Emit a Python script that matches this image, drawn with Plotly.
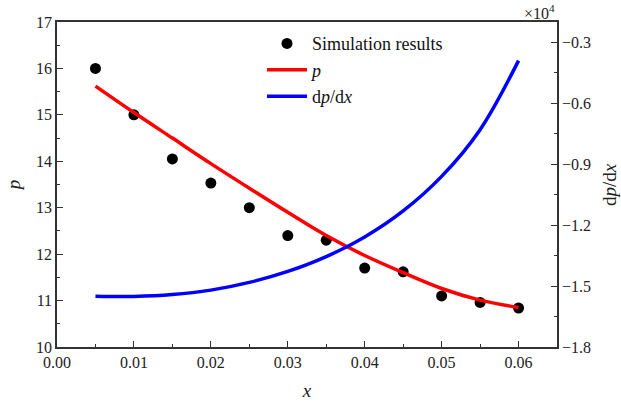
import plotly.graph_objects as go

x_sim = [0.005, 0.01, 0.015, 0.02, 0.025, 0.03, 0.035, 0.04, 0.045, 0.05, 0.055, 0.06]
p_sim = [16.0, 15.0, 14.05, 13.53, 13.0, 12.4, 12.3, 11.7, 11.62, 11.1, 10.96, 10.84]

x_curve = [0.005, 0.01, 0.015, 0.02, 0.025, 0.03, 0.035, 0.04, 0.045, 0.05, 0.055, 0.06]
p_curve = [15.62, 15.05, 14.5, 13.95, 13.42, 12.9, 12.4, 11.97, 11.6, 11.26, 11.01, 10.85]
dpdx_curve = [-1.55, -1.551, -1.542, -1.52, -1.482, -1.428, -1.355, -1.258, -1.13, -0.96, -0.73, -0.39]

FONT = "Liberation Serif, Times New Roman, serif"
TICKFONT = dict(family=FONT, size=16, color="#222222")

fig = go.Figure()
fig.add_trace(go.Scatter(x=x_sim, y=p_sim, mode="markers", name="Simulation results",
                         marker=dict(color="black", size=11)))
fig.add_trace(go.Scatter(x=x_curve, y=p_curve, mode="lines", name="<i>p</i>",
                         line=dict(color="#ff0000", width=3.5, shape="spline", smoothing=1.0)))
fig.add_trace(go.Scatter(x=x_curve, y=dpdx_curve, mode="lines", name="d<i>p</i>/d<i>x</i>",
                         yaxis="y2", line=dict(color="#0000ff", width=3.5, shape="spline", smoothing=1.0)))

axcol = "#333333"
fig.update_layout(
    width=621, height=410,
    margin=dict(l=57, r=64, t=22, b=58),
    plot_bgcolor="white", paper_bgcolor="white",
    font=dict(family=FONT, size=16, color="#222222"),
    showlegend=True,
    legend=dict(x=0.41, y=0.99, xanchor="left", yanchor="top",
                bgcolor="rgba(0,0,0,0)", font=dict(size=18, family=FONT, color="#111111"),
                tracegroupgap=0, itemwidth=40),
    xaxis=dict(range=[0, 0.065], dtick=0.01, tick0=0, tickformat=".2f", tickfont=TICKFONT,
               showgrid=False, zeroline=False, showline=True, linecolor=axcol, linewidth=1.5,
               mirror=True, ticks="inside", ticklen=6, tickwidth=1.3, tickcolor=axcol,
               minor=dict(ticks="inside", ticklen=3, dtick=0.005, tickwidth=1.3, tickcolor=axcol),
               title=dict(text="<i>x</i>", font=dict(size=19, family=FONT), standoff=14)),
    yaxis=dict(range=[10, 17], dtick=1, showgrid=False, zeroline=False, tickfont=TICKFONT,
               showline=True, linecolor=axcol, linewidth=1.5,
               ticks="inside", ticklen=6, tickwidth=1.3, tickcolor=axcol,
               minor=dict(ticks="inside", ticklen=3, dtick=0.5, tickwidth=1.3, tickcolor=axcol),
               title=dict(text="<i>p</i>", font=dict(size=19, family=FONT), standoff=10)),
    yaxis2=dict(range=[-1.8, -0.2], overlaying="y", side="right", tickfont=TICKFONT,
                tickvals=[-1.8, -1.5, -1.2, -0.9, -0.6, -0.3], tickformat=".1f",
                showgrid=False, zeroline=False, showline=True, linecolor=axcol, linewidth=1.5,
                ticks="inside", ticklen=6, tickwidth=1.3, tickcolor=axcol,
                minor=dict(ticks="inside", ticklen=3,
                           tickvals=[-1.65, -1.35, -1.05, -0.75, -0.45], tickwidth=1.3, tickcolor=axcol)),
    annotations=[
        dict(text="×10<sup>4</sup>", xref="paper", yref="paper", x=1.0, y=1.0,
             xanchor="right", yanchor="bottom", showarrow=False, yshift=-2,
             font=dict(size=16, family=FONT, color="#222222")),
        dict(text="d<i>p</i>/d<i>x</i>", xref="paper", yref="paper", x=1.0, y=0.5,
             xanchor="left", yanchor="middle", xshift=40, textangle=-90, showarrow=False,
             font=dict(size=19, family=FONT, color="#222222")),
    ],
)

fig.write_html("out.html")
